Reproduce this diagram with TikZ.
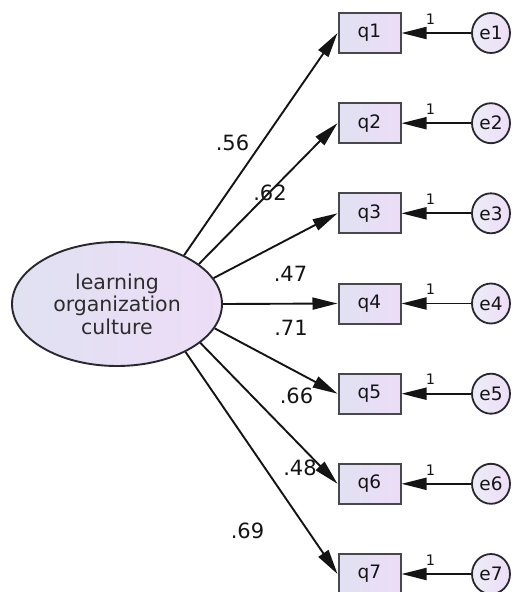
\documentclass[tikz,border=0pt]{standalone}
\usepackage{fontspec}
\setmainfont{DejaVu Sans}
\usetikzlibrary{arrows.meta,shapes.geometric}

\definecolor{fillL}{RGB}{224,225,242}
\definecolor{fillR}{RGB}{237,221,247}
\definecolor{edge}{RGB}{40,40,45}
\definecolor{ink}{RGB}{20,20,20}

\tikzset{
  latent/.style={ellipse, draw=edge, line width=1.9pt, left color=fillL, right color=fillR,
    minimum width=210pt, minimum height=124pt, inner sep=0pt, align=center,
    text=ink!90, font=\fontsize{20.5}{22.5}\selectfont},
  item/.style={rectangle, draw=edge!85, line width=2pt, left color=fillL, right color=fillR,
    minimum width=62pt, minimum height=40pt, inner sep=0pt, text=ink,
    font=\fontsize{18.5}{20}\selectfont},
  err/.style={ellipse, draw=edge, line width=1.8pt, left color=fillL!60!white, right color=fillR,
    minimum width=38pt, minimum height=40pt, inner sep=0pt, text=ink,
    font=\fontsize{18.5}{20}\selectfont},
  path/.style={draw=ink, line width=1.9pt, -{Triangle[length=25pt,width=12pt]}},
  coef/.style={inner sep=0pt, text=ink, font=\fontsize{21}{23}\selectfont},
  one/.style={inner sep=0pt, text=ink, font=\fontsize{14.5}{16}\selectfont}
}

\begin{document}
\begin{tikzpicture}[x=1pt,y=-1pt]
\useasboundingbox (0,0) rectangle (515,592);

% latent factor
\node[latent] (lc) at (117,304) {learning\\organization\\culture};

% observed items, error terms and fixed loadings
\foreach \i/\y in {1/33, 2/123.2, 3/213.3, 4/303.5, 5/393.7, 6/483.8, 7/574} {
  \node[item] (q\i) at (369.5,\y) {q\i};
  \node[err] (e\i) at (491,\y) {e\i};
  \draw[path] (e\i) -- (q\i);
  \node[one] (one\i) at (430.5,\y-14) {1};
}

% factor loadings
\draw[path] (lc.36)  -- (q1.west);
\draw[path] (lc.26)  -- (q2.west);
\draw[path] (lc.15)  -- (q3.west);
\draw[path] (lc.0)   -- (q4.west);
\draw[path] (lc.-14) -- (q5.west);
\draw[path] (lc.-25) -- (q6.west);
\draw[path] (lc.-35) -- (q7.west);

% standardized estimates
\node[coef] (c1) at (232.5,142.5) {.56};
\node[coef] (c2) at (270,192.5)   {.62};
\node[coef] (c3) at (290.5,274)   {.47};
\node[coef] (c4) at (291,328)     {.71};
\node[coef] (c5) at (296.5,395.5) {.66};
\node[coef] (c6) at (300,467.5)   {.48};
\node[coef] (c7) at (247.5,530.5) {.69};
\end{tikzpicture}
\end{document}
